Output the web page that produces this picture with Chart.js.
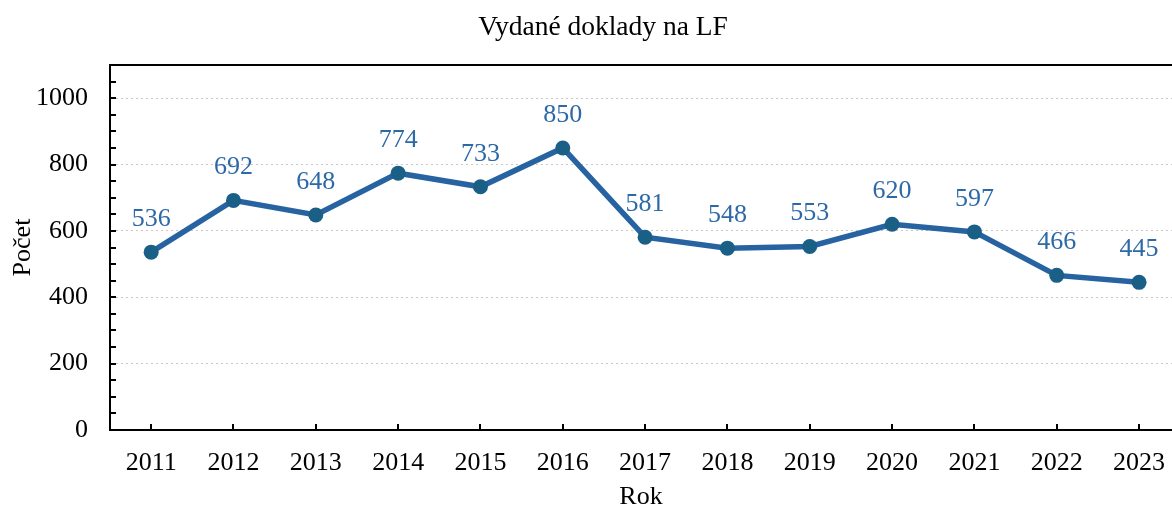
<!DOCTYPE html>
<html>
<head>
<meta charset="utf-8">
<script src="https://cdn.jsdelivr.net/npm/chart.js@4/dist/chart.umd.min.js"></script>
<style>
  html, body { margin: 0; padding: 0; background: #fff; }
  #wrap { width: 1172px; height: 509px; }
</style>
</head>
<body>
<div id="wrap"><canvas id="chart"></canvas></div>
<script>
// data
const years = [2011, 2012, 2013, 2014, 2015, 2016, 2017, 2018, 2019, 2020, 2021, 2022, 2023];
const counts = [536, 692, 648, 774, 733, 850, 581, 548, 553, 620, 597, 466, 445];
const yLabels = [0, 200, 400, 600, 800, 1000];
const yMinor = [0, 50, 100, 150, 200, 250, 300, 350, 400, 450, 500, 550, 600, 650, 700, 750, 800, 850, 900, 950, 1000, 1050, 1100];

const FONT = "'Liberation Serif', 'Times New Roman', serif";
const LINE = '#2763a0';
const DOT = '#1a5f86';
const LABEL = '#2d69a6';

// title, top frame line, inward tick marks and point labels
const extras = {
  id: 'extras',
  afterDraw(chart) {
    const ctx = chart.ctx;
    const area = chart.chartArea;
    const xs = chart.scales.x, ys = chart.scales.y;
    ctx.save();
    ctx.fillStyle = '#000';
    ctx.font = '27.5px ' + FONT;
    ctx.textAlign = 'center';
    ctx.textBaseline = 'middle';
    ctx.fillText('Vydané doklady na LF', 603, 28);

    ctx.strokeStyle = '#000';
    ctx.lineWidth = 2;
    ctx.beginPath();
    ctx.moveTo(area.left - 1, area.top);
    ctx.lineTo(chart.width, area.top);
    ctx.stroke();

    // y ticks every 50, pointing into the plot
    ctx.beginPath();
    yMinor.forEach(v => {
      const py = Math.round(ys.getPixelForValue(v));
      ctx.moveTo(area.left, py);
      ctx.lineTo(area.left + 6, py);
    });
    // x ticks at each year
    years.forEach(yr => {
      const px = Math.round(xs.getPixelForValue(yr));
      ctx.moveTo(px, area.bottom);
      ctx.lineTo(px, area.bottom - 6);
    });
    ctx.stroke();
    ctx.restore();
  },
  afterDatasetsDraw(chart) {
    const ctx = chart.ctx;
    const meta = chart.getDatasetMeta(0);
    ctx.save();
    ctx.fillStyle = LABEL;
    ctx.font = '26px ' + FONT;
    ctx.textAlign = 'center';
    ctx.textBaseline = 'middle';
    meta.data.forEach((pt, i) => {
      ctx.fillText(String(counts[i]), pt.x, pt.y - 33);
    });
    ctx.restore();
  }
};

const chart = new Chart(document.getElementById('chart'), {
  type: 'line',
  data: {
    datasets: [{
      data: years.map((yr, i) => ({ x: yr, y: counts[i] })),
      borderColor: LINE,
      borderWidth: 5.5,
      pointRadius: 7.5,
      pointBackgroundColor: DOT,
      pointBorderColor: DOT,
      pointBorderWidth: 0,
      tension: 0,
      clip: false
    }]
  },
  options: {
    responsive: true,
    maintainAspectRatio: false,
    animation: false,
    layout: { autoPadding: false, padding: { top: 65, right: 0, left: 0, bottom: 0 } },
    plugins: {
      legend: { display: false },
      title: { display: false },
      tooltip: { enabled: false }
    },
    scales: {
      x: {
        type: 'linear',
        min: 2010.5,
        max: 2023.4,
        afterBuildTicks: s => { s.ticks = years.map(v => ({ value: v })); },
        afterFit: s => { s.height = 79; s.paddingRight = 0; s.paddingLeft = 0; },
        border: { color: '#000', width: 2 },
        grid: { display: true, drawOnChartArea: false, drawTicks: false },
        ticks: {
          autoSkip: false,
          maxRotation: 0,
          padding: 18,
          color: '#000',
          font: { family: FONT, size: 26 },
          callback: v => String(v)
        },
        title: {
          display: true,
          text: 'Rok',
          color: '#000',
          font: { family: FONT, size: 26 },
          padding: { top: 0, bottom: -4 }
        }
      },
      y: {
        min: 0,
        max: 1100,
        afterBuildTicks: s => { s.ticks = yLabels.map(v => ({ value: v })); },
        afterFit: s => { s.width = 110; s.paddingTop = 0; },
        border: { color: '#000', width: 2, dash: [2, 3] },
        grid: {
          drawTicks: false,
          lineWidth: 1,
          color: c => c.tick.value > 0 ? '#c8c8c8' : 'rgba(0,0,0,0)'
        },
        ticks: {
          autoSkip: false,
          padding: 22,
          color: '#000',
          font: { family: FONT, size: 26 },
          callback: v => String(v)
        },
        title: {
          display: true,
          text: 'Počet',
          color: '#000',
          font: { family: FONT, size: 26 },
          padding: { bottom: 0, top: 8 }
        }
      }
    }
  },
  plugins: [extras]
});
</script>
</body>
</html>
